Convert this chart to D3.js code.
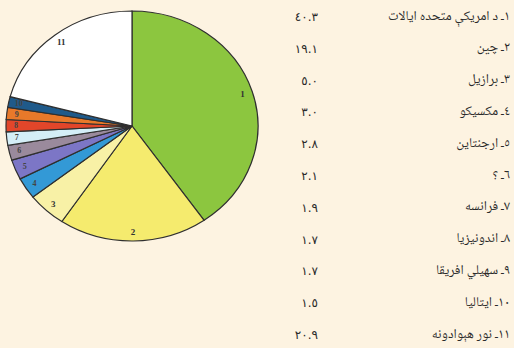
<!DOCTYPE html>
<html>
<head>
<meta charset="utf-8">
<script src="https://cdn.jsdelivr.net/npm/d3@7/dist/d3.min.js"></script>
<style>
  html, body { margin: 0; padding: 0; background: #fdf3e1; }
  svg { display: block; }
</style>
</head>
<body>
<svg id="chart" width="514" height="348"></svg>
<script>
// Slice numbers, shares (%) and legend entries
const ids = [1, 2, 3, 4, 5, 6, 7, 8, 9, 10, 11];
const values = [40.3, 19.1, 5.0, 3.0, 2.8, 2.1, 1.9, 1.7, 1.7, 1.5, 20.9];
const names = [
  "١ـ د امريكې متحده ايالات",
  "٢ـ چين",
  "٣ـ برازيل",
  "٤ـ مكسيكو",
  "٥ـ ارجنتاين",
  "٦ـ ؟",
  "٧ـ فرانسه",
  "٨ـ اندونيزيا",
  "٩ـ سهيلي افريقا",
  "١٠ـ ايتاليا",
  "١١ـ نور هېوادونه"
];
const valueLabels = ["٤٠.٣", "١٩.١", "٥.٠", "٣.٠", "٢.٨", "٢.١", "١.٩", "١.٧", "١.٧", "١.٥", "٢٠.٩"];
const colors = ["#8cc63f", "#f5eb6e", "#f8f1a6", "#3399d6", "#7c76c6", "#9a8a9c",
                "#d4eef7", "#e2462a", "#e8792a", "#1f5a8a", "#ffffff"];

const svg = d3.select("#chart");
const cx = 132, cy = 126, rx = 126, ry = 115;
const sy = ry / rx;

const data = ids.map((id, i) => ({ id, value: values[i], color: colors[i] }));
const pie = d3.pie().value(d => d.value).sort(null);
const arcs = pie(data);
const arc = d3.arc().innerRadius(0).outerRadius(rx);

const pieG = svg.append("g")
  .attr("transform", `translate(${cx},${cy}) scale(1,${sy})`);

pieG.selectAll("path")
  .data(arcs)
  .join("path")
  .attr("d", arc)
  .attr("fill", d => d.data.color)
  .attr("stroke", "#2f2f2f")
  .attr("stroke-width", 1.2)
  .attr("vector-effect", "non-scaling-stroke");

// slice numbers near the rim
const labelArc = d3.arc().innerRadius(rx * 0.92).outerRadius(rx * 0.92);
svg.append("g")
  .selectAll("text")
  .data(arcs)
  .join("text")
  .attr("x", d => cx + labelArc.centroid(d)[0])
  .attr("y", d => cy + labelArc.centroid(d)[1] * sy)
  .attr("text-anchor", "middle")
  .attr("dominant-baseline", "central")
  .attr("font-family", "Liberation Serif, serif")
  .attr("font-weight", "bold")
  .attr("font-size", d => d.data.value < 4 ? 8 : 9)
  .attr("fill", d => d.data.value < 4 ? "#444" : "#333")
  .text(d => d.data.id);

// legend: names right-aligned, values in a column on the left
const rowY = d3.scalePoint().domain(d3.range(ids.length)).range([17, 335]);

const legend = svg.append("g")
  .attr("fill", "#2a2a2a");

legend.selectAll("text.name")
  .data(names)
  .join("text")
  .attr("class", "name")
  .attr("x", 510)
  .attr("y", (d, i) => rowY(i))
  .attr("font-family", "'Noto Naskh Arabic', 'Noto Sans Arabic', 'DejaVu Sans', sans-serif")
  .attr("font-size", 13.5)
  .attr("dominant-baseline", "central")
  .attr("direction", "rtl")
  .attr("text-anchor", "start")
  .text(d => d);

legend.selectAll("text.val")
  .data(valueLabels)
  .join("text")
  .attr("class", "val")
  .attr("x", 318)
  .attr("y", (d, i) => rowY(i))
  .attr("font-family", "'DejaVu Sans', sans-serif")
  .attr("font-size", 12)
  .attr("letter-spacing", 2.5)
  .attr("dominant-baseline", "central")
  .attr("text-anchor", "end")
  .text(d => d);
</script>
</body>
</html>
